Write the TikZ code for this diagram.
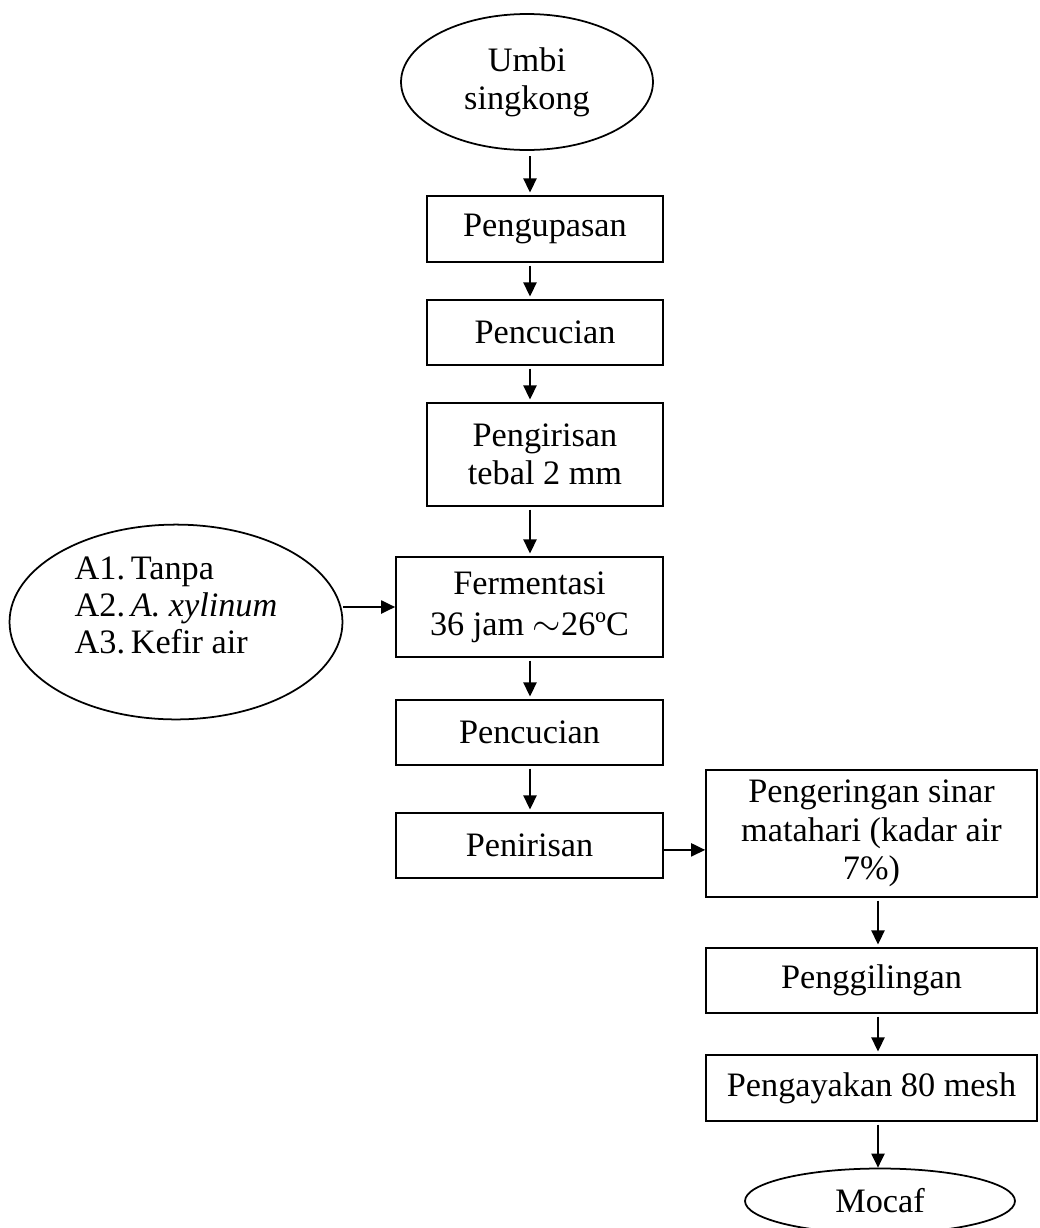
\documentclass[tikz,border=0pt]{standalone}
\usepackage{fontspec}
\setmainfont{Liberation Serif}
\usetikzlibrary{shapes.geometric,arrows.meta}
\tikzset{
  proses/.style={draw, line width=1pt, align=center, inner sep=0pt, font=\fontsize{19.5}{21.8}\selectfont},
  oval/.style={proses, ellipse},
  panah/.style={line width=1pt, -{Triangle[length=8pt,width=7.5pt]}, shorten <=1.5pt, shorten >=1.5pt}
}
\begin{document}
\begin{tikzpicture}[x=0.02cm,y=-0.02cm]
\useasboundingbox (0,0) rectangle (1039,1228);
\node[oval, minimum width=5.04cm, minimum height=2.72cm] (umbi) at (527,82) {Umbi\\singkong};
\node[proses, minimum width=4.72cm, minimum height=1.32cm] (kupas) at (545,229) {Pengupasan};
\node[proses, minimum width=4.72cm, minimum height=1.30cm] (cuci) at (545,332.5) {Pencucian};
\node[proses, minimum width=4.72cm, minimum height=2.06cm] (iris) at (545,454.5) {Pengirisan\\tebal 2 mm};
\node[proses, minimum width=5.34cm, minimum height=2.00cm] (fermen) at (529.5,607) {Fermentasi\\[1.5pt]36 jam $\sim$26ºC};
\node[oval, minimum width=6.66cm, minimum height=3.70cm] (starter) at (176,622)
  {\begin{tabular}{@{}l@{\,}l@{}}A1. & Tanpa\\[-1pt] A2. & \textit{A. xylinum}\\[-1pt] A3. & Kefir air\end{tabular}\\[14pt]};
\node[proses, minimum width=5.34cm, minimum height=1.30cm] (cucib) at (529.5,732.5) {Pencucian};
\node[proses, minimum width=5.34cm, minimum height=1.30cm] (tiris) at (529.5,845.5) {Penirisan};
\node[proses, minimum width=6.62cm, minimum height=2.54cm] (kering) at (871.5,833.5) {Pengeringan sinar\\matahari (kadar air\\7\%)};
\node[proses, minimum width=6.62cm, minimum height=1.30cm] (giling) at (871.5,980.5) {Penggilingan};
\node[proses, minimum width=6.62cm, minimum height=1.32cm] (ayak) at (871.5,1088) {Pengayakan 80 mesh};
\node[oval, minimum width=5.40cm, minimum height=1.30cm] (mocaf) at (880,1201) {Mocaf};
\coordinate (jalur) at (530,0);
\coordinate (jalurb) at (878,0);
\draw[panah, shorten <=3pt] (umbi.south -| jalur) -- (kupas.north -| jalur);
\draw[panah] (kupas.south -| jalur) -- (cuci.north -| jalur);
\draw[panah] (cuci.south -| jalur) -- (iris.north -| jalur);
\draw[panah] (iris.south -| jalur) -- (fermen.north -| jalur);
\draw[panah, shorten <=0pt, shorten >=0pt] (fermen.west -| starter.east) -- (fermen.west);
\draw[panah] (fermen.south -| jalur) -- (cucib.north -| jalur);
\draw[panah] (cucib.south -| jalur) -- (tiris.north -| jalur);
\draw[panah, shorten <=0pt, shorten >=0pt] ([yshift=-2.5pt]tiris.east) -- ([yshift=-2.5pt]tiris.east -| kering.west);
\draw[panah] (kering.south -| jalurb) -- (giling.north -| jalurb);
\draw[panah] (giling.south -| jalurb) -- (ayak.north -| jalurb);
\draw[panah, shorten >=0pt] (ayak.south -| jalurb) -- (mocaf.north -| jalurb);
\end{tikzpicture}
\end{document}
